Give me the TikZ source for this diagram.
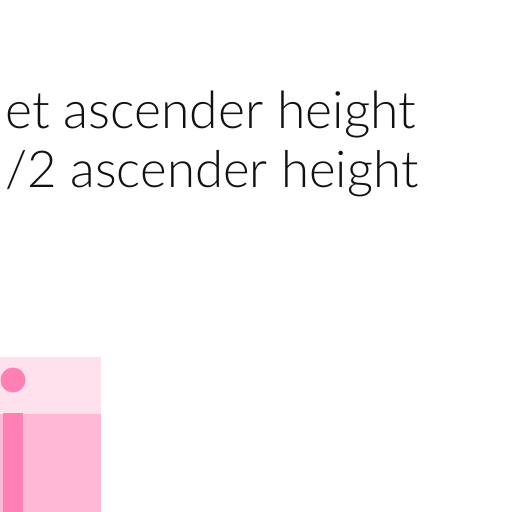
\documentclass[tikz,border=0pt]{standalone}
\usepackage{fontspec}
\setmainfont{Lato Light}
\definecolor{pinklight}{HTML}{FFE1EE}
\definecolor{pinkmid}{HTML}{FFB8D6}
\definecolor{pinkdark}{HTML}{FF80B4}
\definecolor{txt}{HTML}{111111}
\begin{document}
\begin{tikzpicture}[x=1pt,y=-1pt,
  lbl/.style={anchor=base west,inner sep=0pt,text=txt}]
\useasboundingbox (0,0) rectangle (512,512);
\fill[pinklight] (0,357) rectangle (101,414);
\fill[pinkmid] (0,414) rectangle (101,512);
\fill[pinkdark] (3,413) rectangle (23,512);
\fill[pinkdark] (13,380) circle (12.5);
\node[lbl] (l1) at (5,128) {\resizebox{411pt}{!}{et ascender height}};
\node[lbl] (l2) at (5,187) {\resizebox{413pt}{!}{/2 ascender height}};
\end{tikzpicture}
\end{document}
